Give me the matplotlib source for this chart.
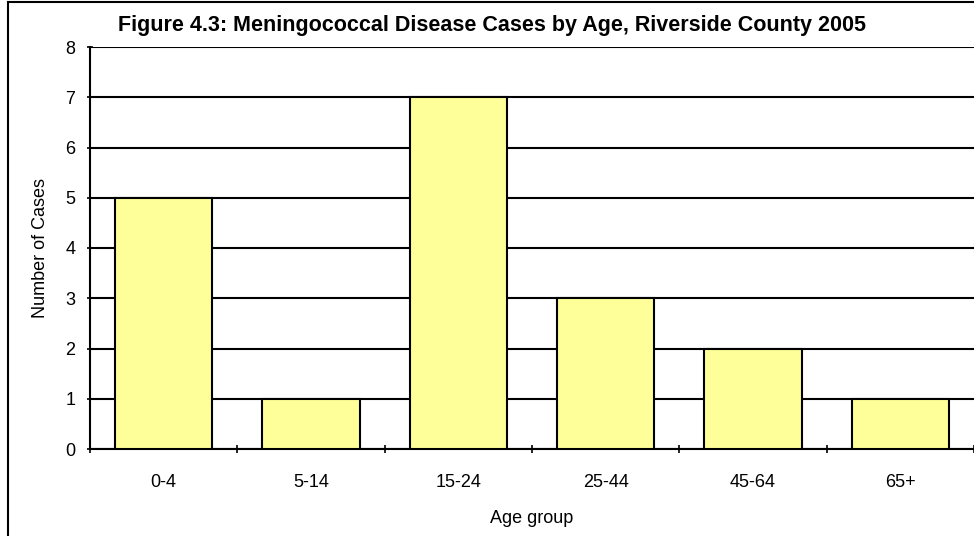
import numpy as np
import matplotlib
matplotlib.use("Agg")
import matplotlib.pyplot as plt
from matplotlib.lines import Line2D

plt.rcParams['font.family'] = ['Liberation Sans', 'DejaVu Sans']

age_groups = ["0-4", "5-14", "15-24", "25-44", "45-64", "65+"]
cases = [5, 1, 7, 3, 2, 1]

fig = plt.figure(figsize=(9.74, 5.36), dpi=100)
ax = fig.add_axes([90/974, 1-449/536, 884/974, 402/536])

x = np.arange(len(age_groups))
ax.bar(x, cases, width=0.66, color="#FFFF99", edgecolor="black", linewidth=1.5, zorder=3)

ax.set_xlim(-0.5, len(age_groups) - 0.5)
ax.set_ylim(0, 8)
ax.set_yticks(range(0, 9))
ax.yaxis.grid(True, color="black", linewidth=1.5, zorder=0)
ax.set_axisbelow(True)

# category labels in the middle, tick marks between categories
ax.set_xticks(x)
ax.set_xticklabels(age_groups, fontsize=13)
ax.tick_params(axis="x", length=0, pad=18)
ax.set_xticks(np.arange(-0.5, len(age_groups)), minor=True)
ax.tick_params(axis="x", which="minor", length=6, width=1.2, direction="inout")
ax.tick_params(axis="y", labelsize=13, length=5, width=1.2, direction="inout", pad=8)

for s in ["top", "right"]:
    ax.spines[s].set_visible(False)
ax.spines["left"].set_linewidth(1.5)
ax.spines["bottom"].set_linewidth(1.5)

ax.set_xlabel("Age group", fontsize=13, labelpad=14)
ax.set_ylabel("Number of Cases", fontsize=13, labelpad=12)

fig.text(0.505, 1-25/536, "Figure 4.3: Meningococcal Disease Cases by Age, Riverside County 2005",
         ha="center", va="center", fontsize=15.5, fontweight="bold")

# chart border
fig.add_artist(Line2D([8/974, 8/974], [0, 1-2/536], color="black", linewidth=1.5))
fig.add_artist(Line2D([8/974, 1], [1-2/536, 1-2/536], color="black", linewidth=1.5))

fig.savefig("out.png", dpi=100)
